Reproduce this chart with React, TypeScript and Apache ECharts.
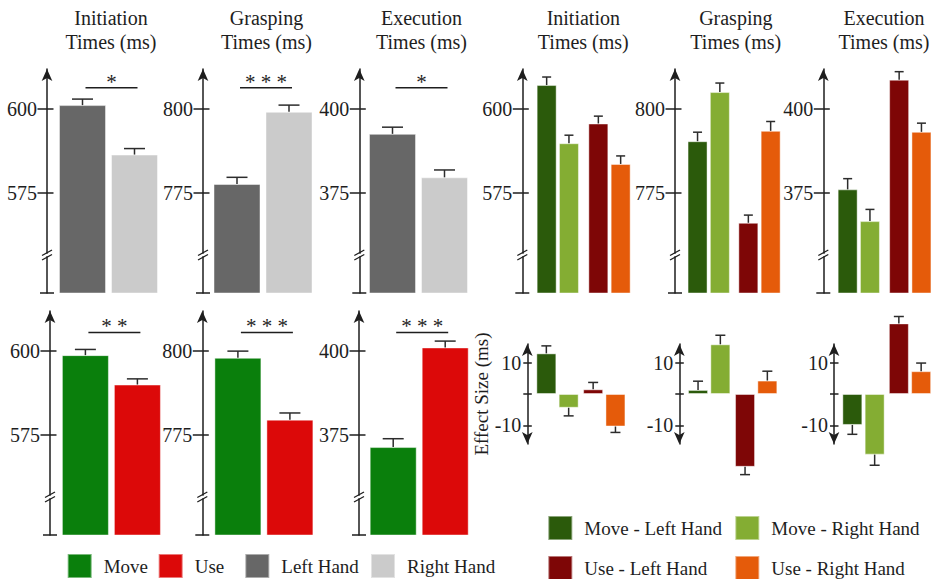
import React, { useEffect, useRef } from "react";
import * as echarts from "echarts";

// ---------------- data ----------------
const tasks = ["Initiation", "Grasping", "Execution"];
const tickLow = [575, 775, 375];
const tickHigh = [600, 800, 400];
const effectTicks = [-10, 0, 10];
const effectLabels = [-10, 10];

const handSeries = ["Left Hand", "Right Hand"];
const leftHandTimes = [601.2, 777.6, 392.6];
const rightHandTimes = [586.4, 799.2, 379.6];
const leftHandErr = [1.8, 2.0, 2.0];
const rightHandErr = [1.8, 2.0, 2.2];
const handStars = ["*", "* * *", "*"];

const goalSeries = ["Move", "Use"];
const moveTimes = [598.8, 798.0, 371.3];
const useTimes = [590.0, 779.5, 401.1];
const moveErr = [1.7, 2.0, 2.5];
const useErr = [1.7, 2.0, 1.9];
const goalStars = ["* *", "* * *", "* * *"];

const comboSeries = ["Move - Left Hand", "Move - Right Hand", "Use - Left Hand", "Use - Right Hand"];
const moveLeftTimes = [607.2, 790.4, 376.0];
const moveRightTimes = [589.8, 805.1, 366.5];
const useLeftTimes = [595.7, 766.0, 408.8];
const useRightTimes = [583.6, 793.5, 393.2];
const moveLeftErr = [2.4, 2.7, 3.2];
const moveRightErr = [2.4, 2.7, 3.5];
const useLeftErr = [2.2, 2.3, 2.4];
const useRightErr = [2.4, 2.8, 2.6];

const moveLeftEffect = [13.0, 1.3, -9.9];
const moveRightEffect = [-4.4, 15.9, -19.4];
const useLeftEffect = [1.5, -23.3, 22.6];
const useRightEffect = [-10.4, 4.3, 7.3];
const moveLeftEffectErr = [2.4, 2.8, 3.0];
const moveRightEffectErr = [2.6, 2.9, 3.4];
const useLeftEffectErr = [2.2, 2.5, 2.2];
const useRightEffectErr = [1.9, 3.0, 2.6];

// ---------------- styles / layout ----------------
const FONT = '"Liberation Serif", "Times New Roman", Times, serif';
const INK = "#1e1e1e";
const ERR_INK = "#2c2c2c";
const COLORS: Record<string, string> = {
  "Left Hand": "#676767",
  "Right Hand": "#cbcbcb",
  Move: "#0a7f0c",
  Use: "#dc0909",
  "Move - Left Hand": "#2b5a0b",
  "Move - Right Hand": "#84ad33",
  "Use - Left Hand": "#7e0606",
  "Use - Right Hand": "#e55b0a",
};

const ROW_TOP = [69, 311];
const ROW_H = 224;
const RANGE_BELOW = 30;
const RANGE_ABOVE = 12;
const SIG_ABOVE = [6.4, 5.6];
const twoBarAxisX = [
  [47, 203, 359.3],
  [50, 202.3, 359],
];
const twoBarGridLeft = [
  [56.5, 211, 366.5],
  [59.4, 211.9, 367.2],
];
const TWO_BAR_W = 104;
const TWO_BAR_BAR = 47;
const comboAxisX = [522.3, 675, 823.3];
const comboMoveLeft = [535.5, 686.4, 836.5];
const comboUseLeft = [587.2, 737.2, 888];
const effAxisX = [527.3, 679.3, 834];
const effMoveLeft = [535.2, 686.9, 841.2];
const effUseLeft = [582, 733.9, 887.7];
const SUB_W = 44.6;
const SUB_BAR = 20;
const EFF_TOP = 344;
const EFF_H = 100;
const EFF_MIN = -16;
const EFF_MAX = 16;
const titleX = [111, 266.5, 421.5, 583.3, 735.8, 884];

const legendSpecs = [
  { name: "Move", x: 66.7, y: 553 },
  { name: "Use", x: 157.7, y: 553 },
  { name: "Left Hand", x: 244.3, y: 553 },
  { name: "Right Hand", x: 370, y: 553 },
  { name: "Move - Left Hand", x: 547.3, y: 515 },
  { name: "Move - Right Hand", x: 734.3, y: 515 },
  { name: "Use - Left Hand", x: 547.3, y: 555 },
  { name: "Use - Right Hand", x: 734.3, y: 555 },
];

// ---------------- builders ----------------
function buildOption() {
  const grids: any[] = [];
  const xAxes: any[] = [];
  const yAxes: any[] = [];
  const series: any[] = [];
  const graphics: any[] = [];
  const lineStyle = { color: INK, width: 1.5 };

  const errorBar = (cap: number) => (_p: any, api: any) => {
    const x = api.value(0);
    const v = api.value(1);
    const e = api.value(2);
    const dir = v < 0 ? -1 : 1;
    const a = api.coord([x, v]);
    const b = api.coord([x, v + dir * e]);
    const st = { stroke: ERR_INK, lineWidth: 1.5 };
    return {
      type: "group",
      children: [
        { type: "line", shape: { x1: a[0], y1: a[1], x2: b[0], y2: b[1] }, style: st },
        { type: "line", shape: { x1: b[0] - cap / 2, y1: b[1], x2: b[0] + cap / 2, y2: b[1] }, style: st },
      ],
    };
  };

  const sigMark = (stars: string) => (_p: any, api: any) => {
    const y = api.value(1);
    const a = api.coord([0, y]);
    const b = api.coord([1, y]);
    const dx = 3;
    return {
      type: "group",
      children: [
        { type: "line", shape: { x1: a[0] + dx, y1: a[1], x2: b[0] + dx, y2: b[1] }, style: { stroke: INK, lineWidth: 1.5 } },
        {
          type: "text",
          x: (a[0] + b[0]) / 2 + dx,
          y: a[1] - 6,
          style: { text: stars, fill: INK, fontSize: 21, fontFamily: FONT, align: "center", verticalAlign: "middle" },
        },
      ],
    };
  };

  function addPanel(p: any) {
    const gi = grids.length;
    grids.push({ left: p.left, top: p.top, width: p.width, height: p.height, containLabel: false, outerBoundsMode: "none" });
    xAxes.push({ type: "category", gridIndex: gi, data: p.names, show: false });
    const yi = yAxes.length;
    if (p.axis) {
      const offset = p.left - p.axis.x;
      yAxes.push({
        type: "value",
        gridIndex: gi,
        min: p.min,
        max: p.max,
        position: "left",
        offset,
        name: p.axis.name || "",
        nameLocation: "middle",
        nameGap: 28,
        nameRotate: 90,
        nameTextStyle: { fontSize: 19, fontFamily: FONT, color: INK },
        axisLine: {
          show: true,
          symbol: p.axis.both ? ["arrow", "arrow"] : ["none", "arrow"],
          symbolSize: [8, 12],
          lineStyle,
        },
        axisTick: { show: true, customValues: p.axis.ticks, length: p.axis.tickOut, lineStyle },
        axisLabel: { show: true, customValues: p.axis.labels, margin: p.axis.margin, fontSize: 20, fontFamily: FONT, color: INK },
        splitLine: { show: false },
      });
      yAxes.push({
        type: "value",
        gridIndex: gi,
        min: p.min,
        max: p.max,
        position: "left",
        offset,
        axisLine: { show: false },
        axisTick: { show: true, inside: true, customValues: p.axis.ticks, length: p.axis.tickIn, lineStyle },
        axisLabel: { show: false },
        splitLine: { show: false },
      });
      if (!p.axis.both) {
        const ax = p.axis.x;
        const bottom = p.top + p.height;
        const by = bottom - 38;
        graphics.push(
          { type: "line", z: 100, shape: { x1: ax - 7, y1: bottom, x2: ax + 7, y2: bottom }, style: { stroke: INK, lineWidth: 1.5 } },
          { type: "rect", z: 100, shape: { x: ax - 2, y: by - 1.3, width: 4, height: 2.6 }, style: { fill: "#fff" } },
          { type: "line", z: 101, shape: { x1: ax - 5, y1: by + 5, x2: ax + 5, y2: by - 0.5 }, style: { stroke: INK, lineWidth: 1.3 } },
          { type: "line", z: 101, shape: { x1: ax - 5, y1: by + 0.5, x2: ax + 5, y2: by - 5 }, style: { stroke: INK, lineWidth: 1.3 } }
        );
      }
    } else {
      yAxes.push({ type: "value", gridIndex: gi, min: p.min, max: p.max, show: false });
    }
    p.names.forEach((name: string, i: number) => {
      series.push({
        type: "bar",
        name,
        xAxisIndex: gi,
        yAxisIndex: yi,
        data: i === 0 ? [p.values[0], "-"] : ["-", p.values[1]],
        barWidth: p.barWidth,
        barGap: "-100%",
        clip: p.clip,
        silent: true,
        itemStyle: { color: COLORS[name], borderColor: "rgba(255,255,255,0.45)", borderWidth: 1 },
      });
    });
    series.push({
      type: "custom",
      xAxisIndex: gi,
      yAxisIndex: yi,
      silent: true,
      z: 5,
      data: [
        [0, p.values[0], p.errs[0]],
        [1, p.values[1], p.errs[1]],
      ],
      renderItem: errorBar(p.cap),
    });
    if (p.stars) {
      series.push({
        type: "custom",
        xAxisIndex: gi,
        yAxisIndex: yi,
        silent: true,
        z: 5,
        data: [[0, p.sigY]],
        renderItem: sigMark(p.stars),
      });
    }
  }

  // left two-bar panels
  const rows = [
    { names: handSeries, a: leftHandTimes, b: rightHandTimes, ea: leftHandErr, eb: rightHandErr, stars: handStars },
    { names: goalSeries, a: moveTimes, b: useTimes, ea: moveErr, eb: useErr, stars: goalStars },
  ];
  rows.forEach((r, ri) => {
    for (let t = 0; t < 3; t++) {
      addPanel({
        left: twoBarGridLeft[ri][t],
        top: ROW_TOP[ri],
        width: TWO_BAR_W,
        height: ROW_H,
        min: tickLow[t] - RANGE_BELOW,
        max: tickHigh[t] + RANGE_ABOVE,
        axis: { x: twoBarAxisX[ri][t], ticks: [tickLow[t], tickHigh[t]], labels: [tickLow[t], tickHigh[t]], tickOut: 9.5, tickIn: 6.5, margin: 10 },
        names: r.names,
        values: [r.a[t], r.b[t]],
        errs: [r.ea[t], r.eb[t]],
        barWidth: TWO_BAR_BAR,
        cap: 21,
        clip: true,
        stars: r.stars[t],
        sigY: tickHigh[t] + SIG_ABOVE[ri],
      });
    }
  });

  // right: four-bar raw time panels
  for (let t = 0; t < 3; t++) {
    addPanel({
      left: comboMoveLeft[t],
      top: ROW_TOP[0],
      width: SUB_W,
      height: ROW_H,
      min: tickLow[t] - RANGE_BELOW,
      max: tickHigh[t] + RANGE_ABOVE,
      axis: { x: comboAxisX[t], ticks: [tickLow[t], tickHigh[t]], labels: [tickLow[t], tickHigh[t]], tickOut: 9.5, tickIn: 6.5, margin: 10 },
      names: [comboSeries[0], comboSeries[1]],
      values: [moveLeftTimes[t], moveRightTimes[t]],
      errs: [moveLeftErr[t], moveRightErr[t]],
      barWidth: SUB_BAR,
      cap: 9,
      clip: true,
    });
    addPanel({
      left: comboUseLeft[t],
      top: ROW_TOP[0],
      width: SUB_W,
      height: ROW_H,
      min: tickLow[t] - RANGE_BELOW,
      max: tickHigh[t] + RANGE_ABOVE,
      names: [comboSeries[2], comboSeries[3]],
      values: [useLeftTimes[t], useRightTimes[t]],
      errs: [useLeftErr[t], useRightErr[t]],
      barWidth: SUB_BAR,
      cap: 9,
      clip: true,
    });
  }

  // right: effect size panels
  for (let t = 0; t < 3; t++) {
    addPanel({
      left: effMoveLeft[t],
      top: EFF_TOP,
      width: SUB_W,
      height: EFF_H,
      min: EFF_MIN,
      max: EFF_MAX,
      axis: {
        x: effAxisX[t],
        ticks: effectTicks,
        labels: effectLabels,
        tickOut: 4,
        tickIn: 4.5,
        margin: 6,
        both: true,
        name: t === 0 ? "Effect Size (ms)" : "",
      },
      names: [comboSeries[0], comboSeries[1]],
      values: [moveLeftEffect[t], moveRightEffect[t]],
      errs: [moveLeftEffectErr[t], moveRightEffectErr[t]],
      barWidth: SUB_BAR,
      cap: 10,
      clip: false,
    });
    addPanel({
      left: effUseLeft[t],
      top: EFF_TOP,
      width: SUB_W,
      height: EFF_H,
      min: EFF_MIN,
      max: EFF_MAX,
      names: [comboSeries[2], comboSeries[3]],
      values: [useLeftEffect[t], useRightEffect[t]],
      errs: [useLeftEffectErr[t], useRightEffectErr[t]],
      barWidth: SUB_BAR,
      cap: 10,
      clip: false,
    });
  }

  // titles
  titleX.forEach((cx, i) => {
    graphics.push({
      type: "text",
      x: cx,
      y: 6,
      z: 100,
      style: {
        text: tasks[i % 3] + "\nTimes (ms)",
        fill: INK,
        fontSize: 20,
        fontFamily: FONT,
        lineHeight: 24,
        align: "center",
        verticalAlign: "top",
      },
    });
  });

  const legends = legendSpecs.map((l) => ({
    data: [{ name: l.name, icon: "rect" }],
    left: l.x,
    top: l.y,
    orient: "horizontal",
    itemWidth: 24,
    itemHeight: 24,
    padding: 0,
    selectedMode: false,
    textStyle: { fontSize: 19, fontFamily: FONT, color: INK, padding: [0, 0, 0, 7] },
  }));

  return {
    animation: false,
    backgroundColor: "#ffffff",
    textStyle: { fontFamily: FONT },
    grid: grids,
    xAxis: xAxes,
    yAxis: yAxes,
    series,
    legend: legends,
    graphic: { elements: graphics },
  };
}

export default function App() {
  const ref = useRef<HTMLDivElement>(null);
  useEffect(() => {
    if (!ref.current) return;
    const chart = echarts.init(ref.current, null, { renderer: "svg" });
    chart.setOption(buildOption() as any);
    return () => chart.dispose();
  }, []);
  return (
    <div
      ref={ref}
      style={{ position: "fixed", left: 0, top: 0, width: 933, height: 579, background: "#fff" }}
    />
  );
}
